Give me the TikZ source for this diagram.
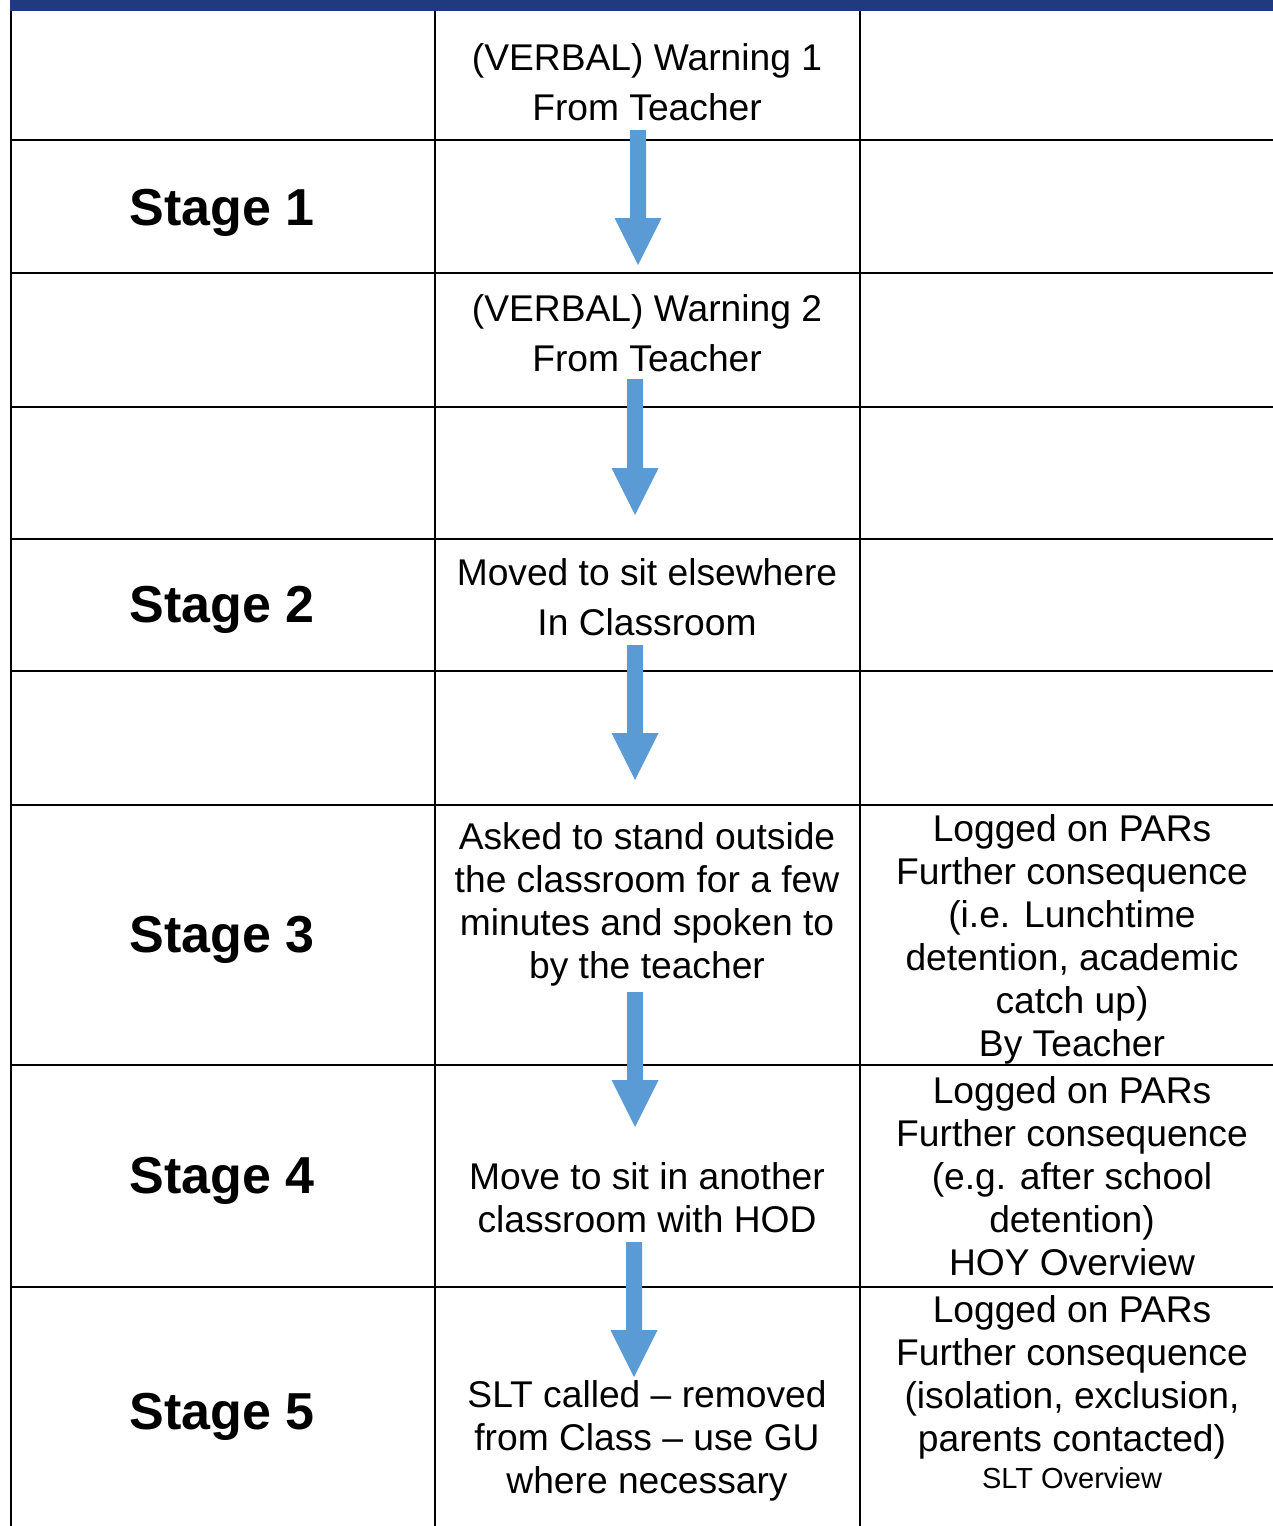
\documentclass[tikz,border=0pt]{standalone}
\usepackage{fontspec}
\setmainfont{Liberation Sans}
\usetikzlibrary{calc}
\definecolor{barblue}{RGB}{31,58,126}
\definecolor{arrowblue}{RGB}{91,155,213}
\tikzset{
  gridline/.style={line width=2.6pt, black},
  stagelbl/.style={inner sep=0pt, font=\fontsize{52}{60}\selectfont\bfseries},
  celltxt/.style={inner sep=0pt, align=center, font=\fontsize{37.2}{43}\selectfont},
  widetxt/.style={inner sep=0pt, align=center, font=\fontsize{37.2}{50.5}\selectfont},
  smalltxt/.style={inner sep=0pt, align=center, font=\fontsize{29}{34}\selectfont},
  blockarrow/.style={fill=arrowblue, draw=none}
}
\begin{document}
\begin{tikzpicture}[x=1pt,y=-1pt]
\useasboundingbox (0,0) rectangle (1273,1526);
\fill[barblue] (10,0) rectangle (1273,11);
% grid
\foreach \x in {11,435,860} \draw[gridline] (\x,11) -- (\x,1526);
\foreach \y in {140,273,407,539,671,805,1065,1287} \draw[gridline] (11,\y) -- (1273,\y);
% arrows
\coordinate (s1) at (638,130); \coordinate (e1) at (638,265);
\coordinate (s2) at (635,379); \coordinate (e2) at (635,515);
\coordinate (s3) at (635,645); \coordinate (e3) at (635,780);
\coordinate (s4) at (635,992); \coordinate (e4) at (635,1127);
\coordinate (s5) at (634,1242); \coordinate (e5) at (634,1377);
\foreach \i in {1,...,5}
  \fill[blockarrow] ($(s\i)+(-8,0)$) -- ($(s\i)+(8,0)$) -- ($(e\i)+(8,-47)$) -- ($(e\i)+(23.5,-47)$) -- (e\i) -- ($(e\i)+(-23.5,-47)$) -- ($(e\i)+(-8,-47)$) -- cycle;
% stage labels
\node[stagelbl] (st1) at (222,213) {Stage 1};
\node[stagelbl] (st2) at (222,610) {Stage 2};
\node[stagelbl] (st3) at (222,940) {Stage 3};
\node[stagelbl] (st4) at (222,1181) {Stage 4};
\node[stagelbl] (st5) at (222,1417) {Stage 5};
% middle column
\node[widetxt] (w1) at (647,82) {(VERBAL) Warning 1\\From Teacher};
\node[widetxt] (w2) at (647,333) {(VERBAL) Warning 2\\From Teacher};
\node[widetxt] (mv) at (647,597) {Moved to sit elsewhere\\In Classroom};
\node[celltxt] (ask) at (647,904) {Asked to stand outside\\the classroom for a few\\minutes and spoken to\\by the teacher};
\node[celltxt] (hod) at (647,1198) {Move to sit in another\\classroom with HOD};
\node[celltxt] (slt) at (647,1441) {SLT called -- removed\\from Class -- use GU\\where necessary};
% right column
\node[celltxt] (r3) at (1072,939) {Logged on PARs\\Further consequence\\(i.e. Lunchtime\\detention, academic\\catch up)\\By Teacher};
\node[celltxt] (r4) at (1072,1176) {Logged on PARs\\Further consequence\\(e.g. after school\\detention)\\HOY Overview};
\node[celltxt] (r5) at (1072,1377) {Logged on PARs\\Further consequence\\(isolation, exclusion,\\parents contacted)};
\node[smalltxt] (r5b) at (1072,1478) {SLT Overview};
\end{tikzpicture}
\end{document}
